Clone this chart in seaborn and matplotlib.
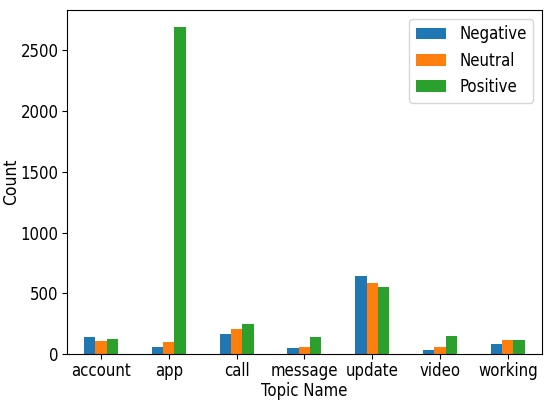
import matplotlib
matplotlib.use("Agg")
import matplotlib.pyplot as plt
import pandas as pd
import seaborn as sns

topics = ["account", "app", "call", "message", "update", "video", "working"]
negative = [139, 60, 167, 46, 645, 33, 80]
neutral = [107, 101, 210, 55, 588, 55, 115]
positive = [125, 2690, 251, 142, 555, 148, 115]

df = pd.DataFrame({"Topic Name": topics, "Negative": negative,
                   "Neutral": neutral, "Positive": positive})
long = df.melt(id_vars="Topic Name", var_name="Sentiment", value_name="Count")

sns.set_style("ticks", {"axes.edgecolor": "black", "xtick.color": "black",
                        "ytick.color": "black", "text.color": "black",
                        "axes.labelcolor": "black"})
plt.rcParams["font.family"] = ["DejaVu Sans"]
plt.rcParams["font.stretch"] = "condensed"

fig, ax = plt.subplots(figsize=(5.5, 4.07), dpi=100)
sns.barplot(data=long, x="Topic Name", y="Count", hue="Sentiment",
            palette=["#1f77b4", "#ff7f0e", "#2ca02c"], width=0.5,
            saturation=1, linewidth=0, edgecolor="none", ax=ax)
ax.set_xlim(-0.5, 6.5)
ax.set_ylim(0, 2830)
ax.set_yticks([0, 500, 1000, 1500, 2000, 2500])
ax.tick_params(labelsize=12, width=0.8, length=3.5, pad=2.5, colors="black")
ax.set_xlabel("Topic Name", fontsize=12, labelpad=1)
ax.set_ylabel("Count", fontsize=12.5)
ax.yaxis.set_label_coords(-0.099, 0.5)
ax.legend(title=None, fontsize=12, handlelength=1.8)
for s in ax.spines.values():
    s.set_visible(True)
    s.set_color("black")
plt.subplots_adjust(left=0.122, right=0.985, top=0.975, bottom=0.13)
plt.savefig("out.png")
